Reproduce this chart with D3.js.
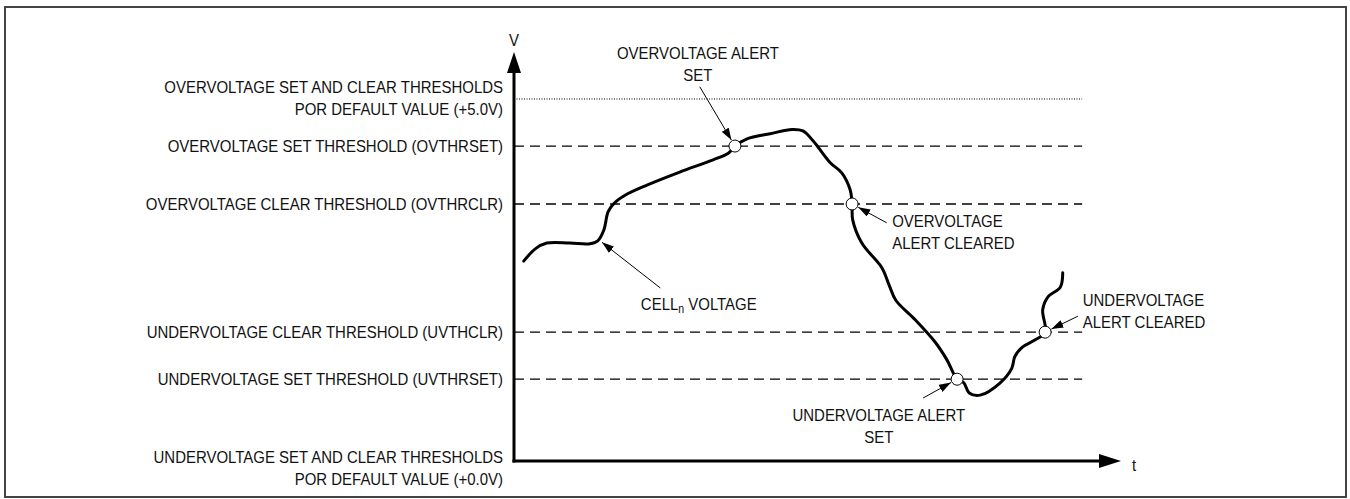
<!DOCTYPE html>
<html>
<head>
<meta charset="utf-8">
<script src="https://cdn.jsdelivr.net/npm/d3@7"></script>
<style>
  body { margin: 0; background: #fff; }
  text { font-family: "Liberation Sans Narrow", "Arial Narrow", "Liberation Sans", Arial, sans-serif; fill: #111; }
</style>
</head>
<body>
<div id="chart"></div>
<script>
// threshold levels (volts, schematic) and their labels
var levelValues = [5.0, 4.35, 3.55, 1.78, 1.13, 0];
var levelLines = [
  ["OVERVOLTAGE SET AND CLEAR THRESHOLDS", "POR DEFAULT VALUE (+5.0V)"],
  ["OVERVOLTAGE SET THRESHOLD (OVTHRSET)"],
  ["OVERVOLTAGE CLEAR THRESHOLD (OVTHRCLR)"],
  ["UNDERVOLTAGE CLEAR THRESHOLD (UVTHCLR)"],
  ["UNDERVOLTAGE SET THRESHOLD (UVTHRSET)"],
  ["UNDERVOLTAGE SET AND CLEAR THRESHOLDS", "POR DEFAULT VALUE (+0.0V)"]
];
var levelStyle = ["dotted", "dashed", "dashed", "dashed", "dashed", "none"];

// cell voltage trace (t, v)
var traceT = [1.6, 3.5, 5.4, 9.2, 12.5, 13.8, 14.8, 15.5, 16.5, 18.3, 21.9, 27.3, 32.8, 35.3, 36.4,
  38.4, 42.2, 45.8, 47.6, 49.3, 52.1, 54.0, 55.4, 55.7, 55.8, 57.3, 60.6, 61.8, 62.9, 66.1,
  69.4, 71.3, 73.0, 74.1, 75.0, 76.8, 80.1, 82.0, 82.5, 83.7, 85.8, 87.5, 87.1, 88.0, 90.0, 90.4];
var traceV = [2.76, 2.93, 3.01, 3.01, 3.00, 3.04, 3.19, 3.44, 3.56, 3.67, 3.81, 3.99, 4.16, 4.25, 4.35,
  4.45, 4.52, 4.58, 4.56, 4.42, 4.12, 3.98, 3.74, 3.55, 3.33, 3.01, 2.67, 2.43, 2.22, 1.95,
  1.64, 1.40, 1.13, 1.08, 0.94, 0.91, 1.08, 1.28, 1.44, 1.57, 1.67, 1.78, 2.09, 2.27, 2.40, 2.60];

// alert crossing points
var alertT = [36.4, 55.7, 73.0, 87.5];
var alertV = [4.35, 3.55, 1.13, 1.78];
var alertText = [
  ["OVERVOLTAGE ALERT", "SET"],
  ["OVERVOLTAGE", "ALERT CLEARED"],
  ["UNDERVOLTAGE ALERT", "SET"],
  ["UNDERVOLTAGE", "ALERT CLEARED"]
];

var width = 1350, height = 499;
var fontSize = 17, squeeze = 0.88;
var svg = d3.select("#chart").append("svg")
  .attr("width", width).attr("height", height);

// frame
svg.append("rect")
  .attr("x", 5).attr("y", 7).attr("width", 1341).attr("height", 490)
  .attr("fill", "none").attr("stroke", "#444").attr("stroke-width", 2);

var x = d3.scaleLinear().domain([0, 100]).range([514, 1121]);
var y = d3.scaleLinear().domain([0, 5]).range([461, 99]);
var tEnd = 93.6;

var defs = svg.append("defs");
defs.append("marker")
  .attr("id", "tip").attr("viewBox", "0 0 12 8")
  .attr("refX", 12).attr("refY", 4)
  .attr("markerWidth", 12).attr("markerHeight", 8)
  .attr("markerUnits", "userSpaceOnUse").attr("orient", "auto")
  .append("path").attr("d", "M0,0L12,4L0,8Z").attr("fill", "#000");

// threshold lines
levelValues.forEach(function(v, i) {
  if (levelStyle[i] == "none") return;
  svg.append("line")
    .attr("x1", x(0)).attr("x2", x(tEnd))
    .attr("y1", y(v)).attr("y2", y(v))
    .attr("stroke", "#000")
    .attr("stroke-width", levelStyle[i] == "dotted" ? 1 : 1.3)
    .attr("stroke-dasharray", levelStyle[i] == "dotted" ? "1,1.5" : "10,6");
});

// threshold labels
var labelShift = [-1, 0, 0, 0, 0, 7];
levelValues.forEach(function(v, i) {
  var lines = levelLines[i];
  var gap = 22;
  var top = y(v) + labelShift[i] - (lines.length - 1) * gap / 2;
  lines.forEach(function(s, j) {
    svg.append("text")
      .attr("class", "lbl")
      .attr("x", 503).attr("y", top + j * gap)
      .attr("dy", "0.36em").attr("text-anchor", "end")
      .text(s);
  });
});

// axes
svg.append("line").attr("x1", x(0)).attr("x2", x(0))
  .attr("y1", y(0) + 1.5).attr("y2", 70)
  .attr("stroke", "#000").attr("stroke-width", 3);
svg.append("path").attr("d", d3.line()([[x(0) - 7, 73], [x(0), 52], [x(0) + 7, 73]]) + "Z")
  .attr("fill", "#000");
svg.append("line").attr("x1", x(0) - 1.5).attr("x2", x(100) - 18)
  .attr("y1", y(0)).attr("y2", y(0))
  .attr("stroke", "#000").attr("stroke-width", 3);
svg.append("path").attr("d", d3.line()([[x(100) - 22, y(0) - 7], [x(100), y(0)], [x(100) - 22, y(0) + 7]]) + "Z")
  .attr("fill", "#000");
svg.append("text").attr("class", "lbl").attr("x", x(0)).attr("y", 40).attr("dy", "0.36em")
  .attr("text-anchor", "middle").text("V");
svg.append("text").attr("class", "lbl").attr("x", x(100) + 13).attr("y", y(0) + 4).attr("dy", "0.36em")
  .attr("text-anchor", "middle").text("t");

// trace
var trace = traceT.map(function(t, i) { return [t, traceV[i]]; });
svg.append("path")
  .datum(trace)
  .attr("d", d3.line().x(function(d) { return x(d[0]); }).y(function(d) { return y(d[1]); })
    .curve(d3.curveCatmullRom.alpha(0.5)))
  .attr("fill", "none").attr("stroke", "#000").attr("stroke-width", 3)
  .attr("stroke-linecap", "round");

// annotation layout (text anchor + arrow tail, in data units)
var noteT = [30.3, 62.3, 60.1, 93.7];
var noteV = [5.64, 3.31, 0.64, 2.22];
var noteAnchor = ["middle", "start", "middle", "start"];
var tailT = [30.6, 61.4, 67.4, 92.9];
var tailV = [5.17, 3.29, 0.87, 2.00];
var r = 6;

alertT.forEach(function(t, i) {
  var cx = x(t), cy = y(alertV[i]);
  var tx = x(tailT[i]), ty = y(tailV[i]);
  var dx = tx - cx, dy = ty - cy, len = Math.sqrt(dx * dx + dy * dy);
  svg.append("line")
    .attr("x1", tx).attr("y1", ty)
    .attr("x2", cx + dx / len * (r + 1)).attr("y2", cy + dy / len * (r + 1))
    .attr("stroke", "#000").attr("stroke-width", 1)
    .attr("marker-end", "url(#tip)");
  alertText[i].forEach(function(s, j) {
    svg.append("text")
      .attr("class", "lbl")
      .attr("x", x(noteT[i])).attr("y", y(noteV[i]) + j * 22)
      .attr("dy", "0.36em").attr("text-anchor", noteAnchor[i])
      .text(s);
  });
});

svg.selectAll("circle.alert")
  .data(alertT)
  .enter().append("circle")
  .attr("class", "alert")
  .attr("cx", function(d) { return x(d); })
  .attr("cy", function(d, i) { return y(alertV[i]); })
  .attr("r", r)
  .attr("fill", "#fff").attr("stroke", "#000").attr("stroke-width", 1);

// condensed lettering like the original narrow face
svg.selectAll("text.lbl")
  .attr("font-size", fontSize)
  .each(function() {
    var w = this.getComputedTextLength();
    d3.select(this).attr("textLength", w * squeeze).attr("lengthAdjust", "spacingAndGlyphs");
  });

// CELLn VOLTAGE label (squeezed with a transform so the subscript stays in place)
svg.append("line")
  .attr("x1", x(24.1)).attr("y1", y(2.39))
  .attr("x2", x(14.5)).attr("y2", y(3.02))
  .attr("stroke", "#000").attr("stroke-width", 1)
  .attr("marker-end", "url(#tip)");
var cell = svg.append("text")
  .attr("transform", "translate(" + x(20.9) + "," + y(2.17) + ") scale(" + squeeze + ",1)")
  .attr("dy", "0.36em").attr("font-size", fontSize);
cell.append("tspan").text("CELL");
cell.append("tspan").attr("font-size", 12).attr("baseline-shift", "-25%").text("n");
cell.append("tspan").text(" VOLTAGE");
</script>
</body>
</html>
